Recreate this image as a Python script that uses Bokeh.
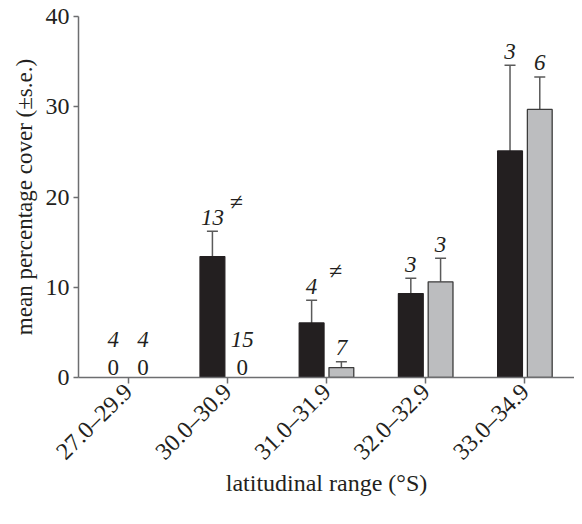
import math
from bokeh.plotting import figure
from bokeh.models import ColumnDataSource, Whisker, FactorRange, Range1d, TeeHead
from bokeh.transform import dodge
from bokeh.core.properties import value
from bokeh.embed import file_html
from bokeh.resources import INLINE

# ---- data ----
categories = ["27.0\u201329.9", "30.0\u201330.9", "31.0\u201331.9", "32.0\u201332.9", "33.0\u201334.9"]
black_mean = [0, 13.4, 6.05, 9.3, 25.1]
black_se = [0, 2.8, 2.5, 1.7, 9.5]
black_n = [4, 13, 4, 3, 3]
grey_mean = [0, 0, 1.1, 10.6, 29.7]
grey_se = [0, 0, 0.65, 2.6, 3.6]
grey_n = [4, 15, 7, 3, 6]
significant = [False, True, True, False, False]
y_ticks = [0, 10, 20, 30, 40]

FONT = "Liberation Serif"
FS = "23px"

p = figure(x_range=FactorRange(*categories), y_range=Range1d(0, 40),
           width=574, height=516, output_backend="svg", toolbar_location=None,
           min_border_left=78, min_border_right=0, min_border_top=16, min_border_bottom=139)
p.outline_line_color = None
p.xgrid.grid_line_color = None
p.ygrid.grid_line_color = None


def split(mean, se, n):
    nz = dict(cat=[], mean=[], up=[], n=[])
    z = dict(cat=[], y=[], n=[], zero=[])
    for c, m, s, k in zip(categories, mean, se, n):
        if m > 0:
            nz["cat"].append(c); nz["mean"].append(m); nz["up"].append(m + s); nz["n"].append(str(k))
        else:
            z["cat"].append(c); z["y"].append(0); z["n"].append(str(k)); z["zero"].append("0")
    return ColumnDataSource(nz), ColumnDataSource(z)


series = [
    (black_mean, black_se, black_n, -0.15, "#231f20", "#231f20"),
    (grey_mean, grey_se, grey_n, 0.15, "#bcbdbf", "#3c3c3c"),
]
ERR = "#5a5a5a"
TXT = "#231f20"
for mean, se, n, off, fill, line in series:
    nz, z = split(mean, se, n)
    xs = dodge("cat", off, range=p.x_range)
    p.vbar(x=xs, top="mean", bottom=0, width=0.25, source=nz,
           fill_color=fill, line_color=line, line_width=1.3)
    w = Whisker(source=nz, base=dodge("cat", off, range=p.x_range), upper="up", lower="mean",
                line_color=ERR, line_width=1.5, lower_head=None,
                upper_head=TeeHead(size=11, line_color=ERR, line_width=1.5))
    p.add_layout(w)
    p.text(x=dodge("cat", off, range=p.x_range), y="up", text="n", source=nz,
           text_font=value(FONT), text_font_style="italic", text_font_size=FS,
           text_align="center", text_baseline="middle", y_offset=-14, text_color=TXT)
    p.text(x=dodge("cat", off, range=p.x_range), y="y", text="zero", source=z,
           text_font=value(FONT), text_font_size=FS,
           text_align="center", text_baseline="middle", y_offset=-10, text_color=TXT)
    p.text(x=dodge("cat", off, range=p.x_range), y="y", text="n", source=z,
           text_font=value(FONT), text_font_style="italic", text_font_size=FS,
           text_align="center", text_baseline="middle", y_offset=-38, text_color=TXT)

sig_src = ColumnDataSource(dict(
    cat=[c for c, s in zip(categories, significant) if s],
    up=[m + s_ for m, s_, s in zip(black_mean, black_se, significant) if s],
    t=["\u2260" for s in significant if s]))
p.text(x=dodge("cat", -0.15, range=p.x_range), y="up", text="t", source=sig_src,
       text_font=value(FONT), text_font_size="24px", text_font_style="italic",
       text_align="center", text_baseline="middle", x_offset=24, y_offset=-29, text_color=TXT)

AX = "#6d6e70"
for ax in (p.xaxis, p.yaxis):
    ax.axis_line_color = AX
    ax.axis_line_width = 1.5
    ax.major_tick_line_color = AX
    ax.major_tick_line_width = 1.5
    ax.major_tick_in = 0
    ax.minor_tick_line_color = None
    ax.major_label_text_font = FONT
    ax.major_label_text_font_size = "24px"
    ax.major_label_text_color = TXT
    ax.axis_label_text_font = FONT
    ax.axis_label_text_font_style = "normal"
    ax.axis_label_text_color = TXT

p.yaxis.ticker = y_ticks
p.yaxis.major_tick_out = 5
p.yaxis.major_label_standoff = 4
p.yaxis.axis_label = "mean percentage cover (\u00b1s.e.)"
p.yaxis.axis_label_text_font_size = "23px"
p.yaxis.axis_label_standoff = 6
p.xaxis.major_tick_out = 6
p.xaxis.major_label_orientation = math.pi / 4
p.xaxis.major_label_standoff = 4
p.xaxis.axis_label = "latitudinal range (\u00b0S)"
p.xaxis.axis_label_text_font_size = "24px"
p.xaxis.axis_label_standoff = -7

open("out.html", "w").write(file_html(p, INLINE))
